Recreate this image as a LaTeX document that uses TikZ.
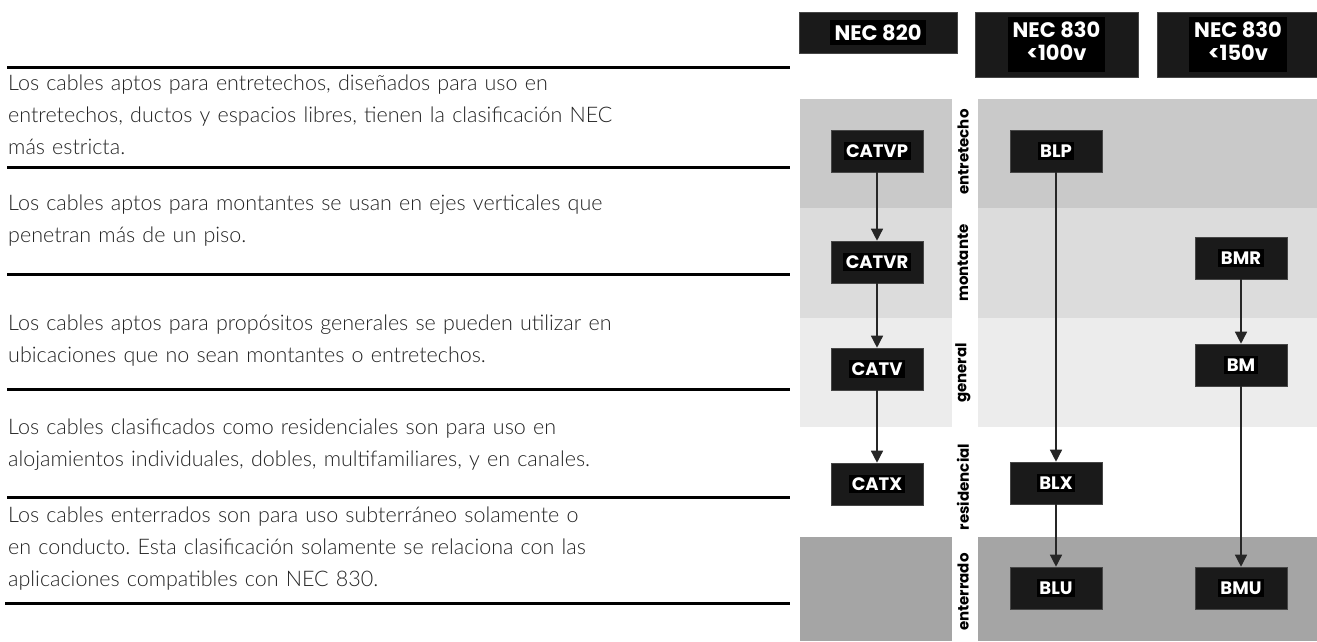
\documentclass[tikz,border=0pt]{standalone}
\usepackage{fontspec}
\setmainfont{Lato}
\newfontface\latolight{Lato Light}
\newfontfamily\pop{Poppins}
\usetikzlibrary{arrows.meta}
\frenchspacing
\definecolor{bandA}{RGB}{201,201,201}
\definecolor{bandB}{RGB}{220,220,220}
\definecolor{bandC}{RGB}{236,236,236}
\definecolor{bandE}{RGB}{165,165,165}
\definecolor{boxfill}{RGB}{26,26,26}
\definecolor{boxedge}{RGB}{70,70,70}
\definecolor{txt}{RGB}{35,35,35}
\newcommand{\ib}[1]{{\setlength\fboxsep{2.5pt}\colorbox{black}{#1}}}
\newcommand{\hb}[1]{{\setlength\fboxsep{5pt}\colorbox{black}{#1}}}
\tikzset{
  hdr/.style={fill=boxfill, draw=boxedge, line width=0.6pt, inner sep=0pt, text=white,
    font=\pop\bfseries\fontsize{21}{22}\selectfont, align=center},
  cab/.style={fill=boxfill, draw=boxedge, line width=0.6pt, inner sep=0pt, text=white,
    minimum width=92pt, minimum height=42pt, font=\pop\bfseries\fontsize{18}{18}\selectfont},
  lab/.style={rotate=90, text=black, font=\pop\bfseries\fontsize{15}{15}\selectfont, inner sep=1pt},
  arr/.style={line width=1.4pt, draw=black!85, -{Triangle[width=12pt,length=12pt]}},
  para/.style={anchor=base west, inner sep=0pt, text width=780pt, align=left, text=txt,
    font=\latolight\fontsize{21.5}{32}\selectfont},
  rulebar/.style={line width=3pt, draw=black}
}
\begin{document}
\begin{tikzpicture}[x=1pt,y=-1pt]
\useasboundingbox (0,0) rectangle (1317,641);
% bands
\fill[bandA] (800,99) rectangle (952,208);
\fill[bandA] (978,99) rectangle (1317,208);
\fill[bandB] (800,208) rectangle (952,318);
\fill[bandB] (978,208) rectangle (1317,318);
\fill[bandC] (800,318) rectangle (952,427);
\fill[bandC] (978,318) rectangle (1317,427);
\fill[bandE] (800,537) rectangle (952,641);
\fill[bandE] (978,537) rectangle (1317,641);
% headers
\node[hdr, minimum width=158pt, minimum height=41pt] (h1) at (878,32.5) {\hb{NEC 820}};
\node[hdr, minimum width=163pt, minimum height=65pt] (h2) at (1056.5,44.5) {\hb{\begin{tabular}{@{}c@{}}NEC 830\\<100v\end{tabular}}};
\node[hdr, minimum width=162pt, minimum height=65pt] (h3) at (1238,44.5) {\hb{\begin{tabular}{@{}c@{}}NEC 830\\<150v\end{tabular}}};
% category labels
\node[lab] (le) at (963,152) {entretecho};
\node[lab] (lm) at (963,263) {montante};
\node[lab] (lg) at (963,373) {general};
\node[lab] (lr) at (963,487) {residencial};
\node[lab] (lu) at (963,592) {enterrado};
% cable boxes
\node[cab] (catvp) at (877,151) {\ib{CATVP}};
\node[cab] (catvr) at (877,262) {\ib{CATVR}};
\node[cab] (catv)  at (877,369) {\ib{CATV}};
\node[cab] (catx)  at (877,484) {\ib{CATX}};
\node[cab] (blp)   at (1056,151) {\ib{BLP}};
\node[cab] (blx)   at (1056,483) {\ib{BLX}};
\node[cab] (blu)   at (1056,588) {\ib{BLU}};
\node[cab] (bmr)   at (1241,258) {\ib{BMR}};
\node[cab] (bm)    at (1241,365) {\ib{BM}};
\node[cab] (bmu)   at (1241,588) {\ib{BMU}};
% arrows
\draw[arr] (catvp) -- (catvr);
\draw[arr] (catvr) -- (catv);
\draw[arr] (catv) -- (catx);
\draw[arr] (blp) -- (blx);
\draw[arr] (blx) -- (blu);
\draw[arr] (bmr) -- (bm);
\draw[arr] (bm) -- (bmu);
% left text
\draw[rulebar] (7,67) -- (790,67);
\node[para] (p1) at (8,90) {Los cables aptos para entretechos, diseñados para uso en\\entretechos, ductos y espacios libres, tienen la clasificación NEC\\más estricta.};
\draw[rulebar] (7,167) -- (790,167);
\node[para] (p2) at (8,210) {Los cables aptos para montantes se usan en ejes verticales que\\penetran más de un piso.};
\draw[rulebar] (7,274) -- (790,274);
\node[para] (p3) at (8,330) {Los cables aptos para propósitos generales se pueden utilizar en\\ubicaciones que no sean montantes o entretechos.};
\draw[rulebar] (7,389) -- (790,389);
\node[para] (p4) at (8,434) {Los cables clasificados como residenciales son para uso en\\alojamientos individuales, dobles, multifamiliares, y en canales.};
\draw[rulebar] (7,497) -- (790,497);
\node[para] (p5) at (8,522) {Los cables enterrados son para uso subterráneo solamente o\\en conducto. Esta clasificación solamente se relaciona con las\\aplicaciones compatibles con NEC 830.};
\draw[rulebar] (5,603) -- (790,603);
\end{tikzpicture}
\end{document}
